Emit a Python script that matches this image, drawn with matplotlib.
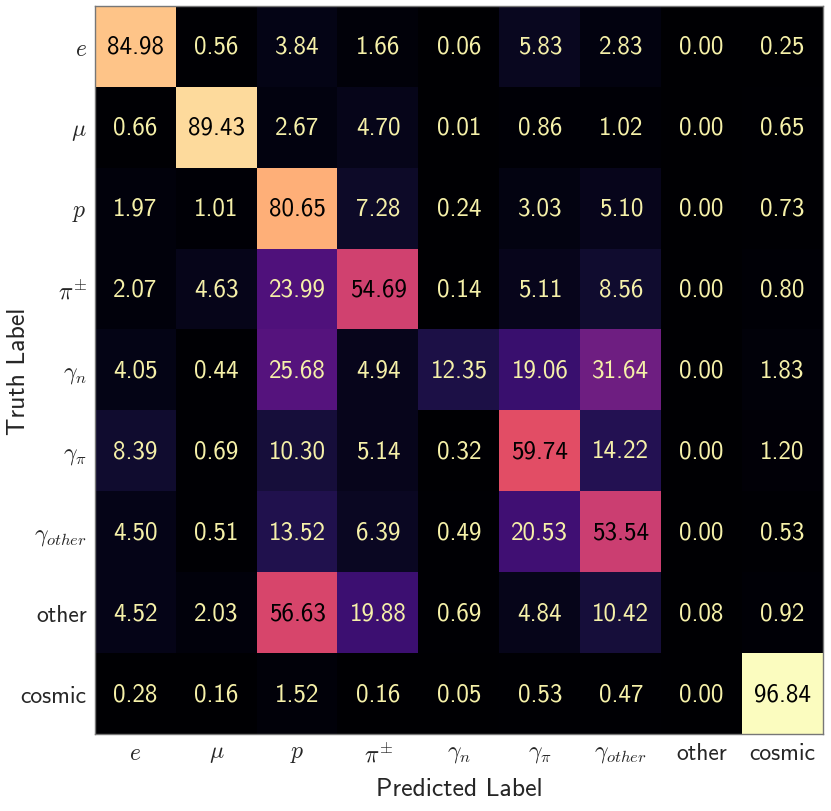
import numpy as np
import matplotlib
matplotlib.use("Agg")
import matplotlib.pyplot as plt
from matplotlib import colors as mcolors

labels = [r"$e$", r"$\mu$", r"$p$", r"$\pi^{\pm}$", r"$\gamma_n$", r"$\gamma_\pi$",
          r"$\gamma_{other}$", "other", "cosmic"]

row_e = [84.98, 0.56, 3.84, 1.66, 0.06, 5.83, 2.83, 0.00, 0.25]
row_mu = [0.66, 89.43, 2.67, 4.70, 0.01, 0.86, 1.02, 0.00, 0.65]
row_p = [1.97, 1.01, 80.65, 7.28, 0.24, 3.03, 5.10, 0.00, 0.73]
row_pi = [2.07, 4.63, 23.99, 54.69, 0.14, 5.11, 8.56, 0.00, 0.80]
row_gn = [4.05, 0.44, 25.68, 4.94, 12.35, 19.06, 31.64, 0.00, 1.83]
row_gpi = [8.39, 0.69, 10.30, 5.14, 0.32, 59.74, 14.22, 0.00, 1.20]
row_gother = [4.50, 0.51, 13.52, 6.39, 0.49, 20.53, 53.54, 0.00, 0.53]
row_other = [4.52, 2.03, 56.63, 19.88, 0.69, 4.84, 10.42, 0.08, 0.92]
row_cosmic = [0.28, 0.16, 1.52, 0.16, 0.05, 0.53, 0.47, 0.00, 96.84]

data = np.array([row_e, row_mu, row_p, row_pi, row_gn, row_gpi, row_gother, row_other, row_cosmic])

plt.rcParams['mathtext.fontset'] = 'cm'
plt.rcParams['axes.unicode_minus'] = False
plt.rcParams['font.family'] = ['cmss10', 'DejaVu Sans']

W, H = 831, 812
fig = plt.figure(figsize=(W/100, H/100), dpi=100)
ax = fig.add_axes([95/W, 1-735/H, 728/W, 728/H])

cmap = plt.get_cmap('magma')
norm = mcolors.Normalize(vmin=0, vmax=data.max())
ax.imshow(data, cmap=cmap, norm=norm, aspect='auto')

def lum(c):
    r, g, b = [x/12.92 if x <= 0.03928 else ((x+0.055)/1.055)**2.4 for x in c[:3]]
    return 0.2126*r + 0.7152*g + 0.0722*b

n = data.shape[0]
for i in range(n):
    for j in range(n):
        v = data[i, j]
        c = cmap(norm(v))
        tc = 'black' if lum(c) > 0.15 else '#f6f1a9'
        ax.text(j, i, f"{v:.2f}", ha='center', va='center', color=tc, fontsize=18)

ax.set_xticks(range(n))
ax.set_yticks(range(n))
ax.set_xticklabels(labels, fontsize=17, color='#262626')
ax.set_yticklabels(labels, fontsize=17, color='#262626')
ax.tick_params(length=0, pad=6)
for s in ax.spines.values():
    s.set_color('#777777')
    s.set_linewidth(1.0)
ax.set_xlabel("Predicted Label", fontsize=18.5, color='#262626')
ax.xaxis.set_label_coords(0.5, -(790 - 735) / 728, transform=ax.transAxes)
ax.set_ylabel("Truth Label", fontsize=18.5, color='#262626')
ax.yaxis.set_label_coords(-(95 - 19) / 728, 0.5, transform=ax.transAxes)
ax.xaxis.label.set_va('center')
ax.yaxis.label.set_va('center')

fig.savefig("out.png", dpi=100)
